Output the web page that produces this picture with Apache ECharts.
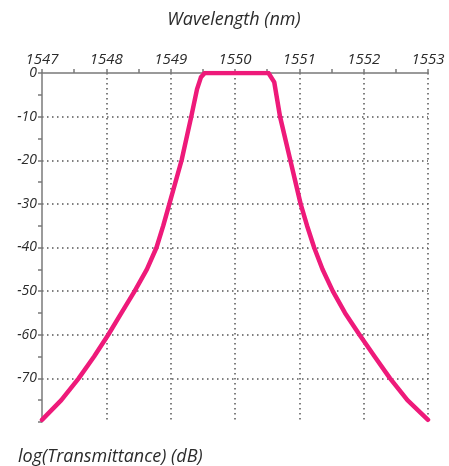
<!DOCTYPE html>
<html>
<head>
<meta charset="utf-8">
<script src="https://cdn.jsdelivr.net/npm/echarts@6/dist/echarts.min.js"></script>
<style>
  html, body { margin: 0; padding: 0; background: #fff; }
  #chart { width: 449px; height: 466px; }
</style>
</head>
<body>
<div id="chart"></div>
<script>
// Filter transmission profile: wavelength (nm) vs. transmittance (dB)
const wavelength = [
  1547.0, 1547.30, 1547.57, 1547.81, 1548.03, 1548.235, 1548.44, 1548.63, 1548.78, 1548.885,
  1548.98, 1549.17, 1549.32, 1549.41, 1549.47, 1549.53,
  1550.52, 1550.61, 1550.70, 1550.86, 1551.02, 1551.12, 1551.23, 1551.36, 1551.52,
  1551.71, 1551.935, 1552.17, 1552.41, 1552.68, 1553.0
];
const transmittance = [
  -79.5, -75, -70, -65, -60, -55, -50, -45, -40, -35,
  -30, -20, -10, -3.7, -1, 0,
  0, -2.1, -10, -20, -30, -35, -40, -45, -50,
  -55, -60, -65, -70, -75, -79.5
];
const xTicks = [1547, 1548, 1549, 1550, 1551, 1552, 1553];
const yTicks = [0, -10, -20, -30, -40, -50, -60, -70];

const textColor = '#2b2b2b';
const labelFont = { fontFamily: 'Open Sans', fontStyle: 'italic', color: textColor };
const dotted = { color: '#555', width: 1.5, type: [1.5, 3.5] };
const axisGray = { color: '#7a7a7a', width: 1.5 };

const chart = echarts.init(document.getElementById('chart'), null, { renderer: 'canvas' });
chart.setOption({
  animation: false,
  backgroundColor: '#fff',
  grid: { left: 42, right: 21, top: 73, bottom: 44, containLabel: false },
  graphic: [
    { type: 'text', x: 234, y: 20,
      style: { text: 'Wavelength (nm)', fontSize: 18, fontFamily: 'Open Sans', fontStyle: 'italic',
               fill: textColor, textAlign: 'center', textVerticalAlign: 'middle' } },
    { type: 'text', x: 18, y: 457,
      style: { text: 'log(Transmittance) (dB)', fontSize: 18, fontFamily: 'Open Sans', fontStyle: 'italic',
               fill: textColor, textAlign: 'left', textVerticalAlign: 'middle' } }
  ],
  xAxis: {
    type: 'value',
    position: 'top',
    min: xTicks[0],
    max: xTicks[xTicks.length - 1],
    interval: 1,
    axisLine: { show: true, lineStyle: axisGray },
    axisTick: { show: true, length: 4, lineStyle: axisGray },
    minorTick: { show: true, splitNumber: 2, length: 4, lineStyle: axisGray },
    axisLabel: Object.assign({ fontSize: 15, margin: 6, formatter: v => String(v) }, labelFont),
    splitLine: { show: true, lineStyle: dotted, showMinLine: false }
  },
  yAxis: {
    type: 'value',
    min: -80,
    max: yTicks[0],
    interval: 10,
    axisLine: { show: true, onZero: false, lineStyle: axisGray },
    axisTick: { show: true, length: 4, lineStyle: axisGray },
    minorTick: { show: true, splitNumber: 2, length: 4, lineStyle: axisGray },
    axisLabel: Object.assign({ fontSize: 14, margin: 5, showMinLabel: false, formatter: v => String(v) }, labelFont),
    splitLine: { show: true, lineStyle: dotted, showMinLine: false, showMaxLine: false }
  },
  series: [{
    type: 'line',
    data: wavelength.map((w, i) => [w, transmittance[i]]),
    showSymbol: false,
    smooth: false,
    lineStyle: { color: '#ee1a7a', width: 4.5, join: 'round', cap: 'round' },
    itemStyle: { color: '#ee1a7a' }
  }]
});
</script>
</body>
</html>
